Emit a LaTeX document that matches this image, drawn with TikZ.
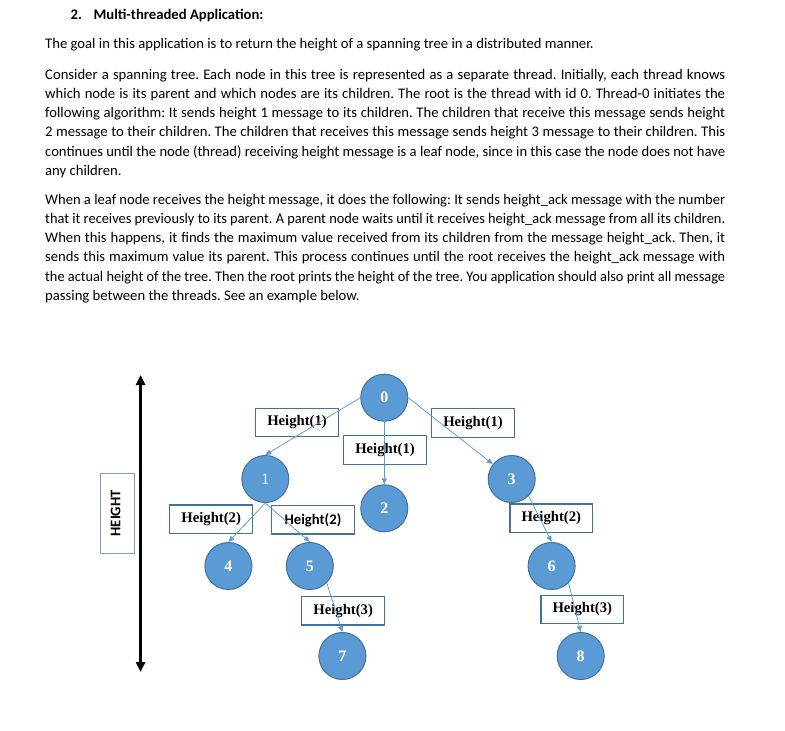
\documentclass[tikz,border=0pt]{standalone}
\usepackage{fontspec}
\usepackage{graphicx}
\setmainfont{Carlito}
\newfontfamily\tnr{Liberation Serif}
\usetikzlibrary{arrows.meta}
\frenchspacing
\definecolor{cfill}{HTML}{5B9BD5}
\definecolor{cdraw}{HTML}{41719C}
\definecolor{bdraw}{HTML}{41719C}
\definecolor{hdraw}{HTML}{7F9DB9}
\newcommand\jline[1]{\sbox0{#1}\ifdim\wd0>680pt \resizebox{680pt}{\height}{#1}\else\makebox[680pt][s]{#1}\fi}
\begin{document}
\begin{tikzpicture}[x=1pt,y=-1pt,
  txt/.style={anchor=base west,inner sep=0pt,font=\frenchspacing\fontsize{14.67}{19}\selectfont},
  tnode/.style={circle,fill=cfill,draw=cdraw,line width=1pt,minimum size=47pt,inner sep=0pt,text=white,font=\tnr\bfseries\fontsize{16}{16}\selectfont},
  hbox/.style={draw=bdraw,line width=1.1pt,fill=white,minimum width=82.6pt,minimum height=28.4pt,inner sep=0pt,font=\tnr\bfseries\fontsize{14.67}{16}\selectfont},
  edge/.style={draw=cfill,line width=0.75pt,-{Triangle[length=6pt,width=5pt]}}]
\useasboundingbox (0,0) rectangle (785,731);
% text
\node[txt,font=\bfseries\fontsize{14.67}{19}\selectfont] (n2) at (70.4,19) {2.};
\node[txt,font=\bfseries\fontsize{14.67}{19}\selectfont] (title) at (93.4,19) {Multi-threaded Application:};
\node[txt] (p1) at (45,48) {The goal in this application is to return the height of a spanning tree in a distributed manner.};
\node[txt] (a1) at (45,79) {\jline{Consider a spanning tree. Each node in this tree is represented as a separate thread. Initially, each thread knows}};
\node[txt] (a2) at (45,98.3) {\jline{which node is its parent and which nodes are its children. The root is the thread with id 0. Thread-0 initiates the}};
\node[txt] (a3) at (45,117.6) {\jline{following algorithm: It sends height 1 message to its children. The children that receive this message sends height}};
\node[txt] (a4) at (45,136.9) {\jline{2 message to their children. The children that receives this message sends height 3 message to their children. This}};
\node[txt] (a5) at (45,156.2) {\jline{continues until the node (thread) receiving height message is a leaf node, since in this case the node does not have}};
\node[txt] (a6) at (45,175.5) {any children.};
\node[txt] (b1) at (45,204) {\jline{When a leaf node receives the height message, it does the following: It sends height\_ack message with the number}};
\node[txt] (b2) at (45,223.3) {\jline{that it receives previously to its parent. A parent node waits until it receives height\_ack message from all its children.}};
\node[txt] (b3) at (45,242.6) {\jline{When this happens, it finds the maximum value received from its children from the message height\_ack. Then, it}};
\node[txt] (b4) at (45,261.9) {\jline{sends this maximum value its parent. This process continues until the root receives the height\_ack message with}};
\node[txt] (b5) at (45,281.2) {\jline{the actual height of the tree. Then the root prints the height of the tree. You application should also print all message}};
\node[txt] (b6) at (45,300.5) {passing between the threads. See an example below.};
% height axis
\node[draw=hdraw,line width=1pt,minimum width=34.3pt,minimum height=80pt,inner sep=0pt] (hb) at (117.8,513.3) {};
\node[rotate=90,inner sep=0pt,font=\bfseries\fontsize{14.67}{16}\selectfont] (ht) at (115.7,513.3) {HEIGHT};
\coordinate (atop) at (140.6,375);
\coordinate (abot) at (140.6,672);
\draw[line width=3pt,{Triangle[length=10pt,width=9pt]}-{Triangle[length=10pt,width=9pt]}] (atop) -- (abot);
% message boxes
\node[hbox] (m01) at (297,422.5) {Height(1)};
\node[hbox] (m02) at (385,450) {Height(1)};
\node[hbox] (m03) at (473,423) {Height(1)};
\node[hbox] (m14) at (211.2,519.2) {Height(2)};
\node[hbox,font=\bfseries\fontsize{14.67}{16}\selectfont] (m15) at (313,519.8) {Height(2)};
\node[hbox] (m36) at (551.3,518.2) {Height(2)};
\node[hbox] (m57) at (343.2,610.8) {Height(3)};
\node[hbox] (m68) at (582.3,609.5) {Height(3)};
% tree nodes
\node[tnode] (t0) at (384.3,397.7) {0};
\node[tnode,font=\tnr\fontsize{16}{16}\selectfont] (t1) at (265.3,479) {1};
\node[tnode] (t2) at (384.3,508.3) {2};
\node[tnode] (t3) at (511.7,479) {3};
\node[tnode] (t4) at (228.4,566) {4};
\node[tnode] (t5) at (309.8,566) {5};
\node[tnode] (t6) at (551.6,566) {6};
\node[tnode] (t7) at (342.4,656) {7};
\node[tnode] (t8) at (580.7,656) {8};
% edges
\draw[edge] (t0.west) -- (t1.north);
\draw[edge] (t0.south) -- (t2.north);
\draw[edge] (t0.east) -- (t3);
\draw[edge] (t1.south) -- (t4.north);
\draw[edge] (t1.south) -- (t5.north);
\draw[edge] (t3.south east) -- (t6.north);
\draw[edge] (t5.south east) -- (t7.north);
\draw[edge] (t6.south east) -- (t8.north);
\end{tikzpicture}
\end{document}
